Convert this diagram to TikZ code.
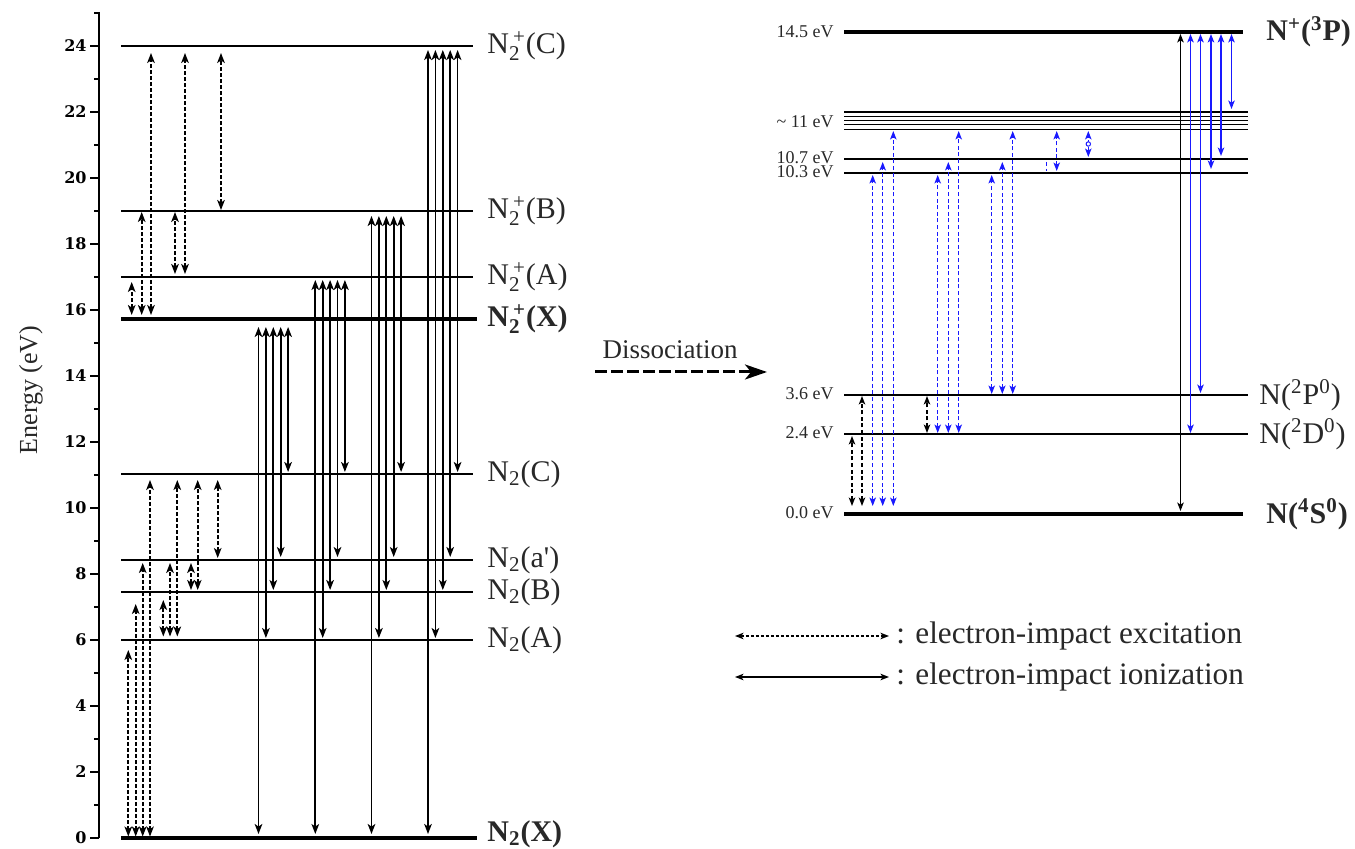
\documentclass[tikz,border=0pt]{standalone}
\usepackage{fontspec}
\setmainfont{Liberation Serif}
\newfontfamily\tickfont{DejaVu Serif}
\newfontfamily\qfont{Liberation Serif}
\usetikzlibrary{arrows.meta}
\definecolor{txt}{RGB}{40,40,40}
\definecolor{eblue}{RGB}{25,25,255}
\newcommand{\smf}[1]{\hbox{\fontsize{10.5}{10.5}\selectfont #1}}
\newcommand{\ssp}[2]{$_{\smf{#1}}^{\kern2pt\smf{#2}}$}
\newcommand{\sbs}[1]{$_{\smf{#1}}$}
\newcommand{\sps}[1]{$^{\smf{#1}}$}
\tikzset{
  lvl/.style={line width=1pt},
  lvlthick/.style={line width=2pt},
  rlvl/.style={line width=0.9pt},
  bigtip/.tip={Stealth[length=5pt,width=3.8pt,inset=1.3pt]},
  smalltip/.tip={Stealth[length=4.2pt,width=3.2pt,inset=1pt]},
  exc/.style={line width=0.85pt, dash pattern=on 2pt off 1pt, arrows={bigtip-bigtip}},
  ion/.style={line width=0.85pt, arrows={bigtip-bigtip}},
  rexc/.style={line width=0.7pt, dash pattern=on 2pt off 1.3pt, arrows={smalltip-smalltip}},
  rion/.style={line width=0.7pt, arrows={smalltip-smalltip}},
  lab/.style={anchor=west, inner sep=0pt, text=txt, font=\fontsize{15}{18}\selectfont},
  leg/.style={anchor=west, inner sep=0pt, text=txt, font=\fontsize{15.6}{18}\selectfont},
  elab/.style={anchor=east, inner sep=0pt, text=txt, font=\fontsize{9}{10}\selectfont},
  ticklab/.style={anchor=east, inner sep=0pt, font=\tickfont\bfseries\fontsize{8}{9}\selectfont},
}
\begin{document}
\begin{tikzpicture}[x=0.5pt,y=-0.5pt]
\useasboundingbox (0,0) rectangle (1355,849);

% ---------- axis ----------
\draw[line width=1pt] (99,12) -- (99,838);
\foreach \e in {0,2,...,24}{
  \draw[line width=0.8pt] (90,{838-33*\e}) -- (99,{838-33*\e});
  \node[ticklab] (tick\e) at (87,{838-33*\e}) {\e};
}
\foreach \e in {1,3,...,25}{
  \draw[line width=0.8pt] (94,{838-33*\e}) -- (99,{838-33*\e});
}
\node[rotate=90, text=txt, font=\fontsize{13}{15}\selectfont] (ylab) at (31,390) {Energy (eV)};

% ---------- left levels ----------
\draw[lvlthick] (121,838) -- (477,838);
\draw[lvl] (121,640) -- (473,640);
\draw[lvl] (121,592) -- (473,592);
\draw[lvl] (121,560) -- (473,560);
\draw[lvl] (121,474) -- (473,474);
\draw[lvlthick] (121,319) -- (477,319);
\draw[lvl] (121,277) -- (473,277);
\draw[lvl] (121,211) -- (473,211);
\draw[lvl] (121,46) -- (473,46);

\node[lab] (nPC) at (487,46) {N\ssp{2}{+}(C)};
\node[lab] (nPB) at (487,211) {N\ssp{2}{+}(B)};
\node[lab] (nPA) at (487,277) {N\ssp{2}{+}(A)};
\node[lab] (nPX) at (487,319) {\bfseries N\ssp{\bfseries 2}{\bfseries +}(X)};
\node[lab] (nC) at (487,474) {N\sbs{2}(C)};
\node[lab] (nap) at (487,560) {N\sbs{2}(a{\qfont\symbol{39}})};
\node[lab] (nB) at (487,592) {N\sbs{2}(B)};
\node[lab] (nA) at (487,640) {N\sbs{2}(A)};
\node[lab] (nX) at (487,834) {\bfseries N\sbs{\bfseries 2}(X)};

% ---------- left excitation arrows ----------
\foreach \x/\a/\b in {128.3/836.5/650, 135.7/836.5/604, 142.7/836.5/563, 150/836.5/480,
  163.3/636.5/600, 170/636.5/563, 177.3/636.5/480, 191/590/563, 197.7/590/480, 217.7/558/480,
  131.7/315/282, 141.7/315/212, 151/315/53, 175/274/212, 185/274/53, 221/210/53}
  \draw[exc] (\x,\a) -- (\x,\b);

% ---------- left ionization arrows ----------
\foreach \gx/\tp in {258.5/327, 315.3/280, 371.5/216, 428/50}{
  \foreach \i/\bt in {0/834, 1/638, 2/590, 3/557, 4/472}{
    \draw[ion] ({\gx+7.4*\i},\tp) -- ({\gx+7.4*\i},\bt);
  }
}

% ---------- dissociation ----------
\node[text=txt, font=\fontsize{13.5}{15}\selectfont] (diss) at (670,350) {Dissociation};
\coordinate (dA) at (595,372);
\coordinate (dB) at (767,372);
\draw[line width=1.5pt, dash pattern=on 6pt off 2pt, -{Stealth[length=11pt,width=7.5pt,inset=3pt]}] (dA) -- (dB);

% ---------- right levels ----------
\draw[lvlthick] (844,32) -- (1243,32);
\foreach \y in {112,116.5,120.5,124.5,129.5} \draw[rlvl] (844,\y) -- (1248,\y);
\draw[rlvl] (844,159) -- (1248,159);
\draw[rlvl] (844,173) -- (1248,173);
\draw[rlvl] (844,395) -- (1248,395);
\draw[rlvl] (844,434) -- (1248,434);
\draw[lvlthick] (844,514) -- (1243,514);

\node[elab] (e145) at (834,32) {14.5 eV};
\node[elab] (e11) at (834,122) {\textasciitilde\ 11 eV};
\node[elab] (e107) at (834,158) {10.7 eV};
\node[elab] (e103) at (834,172) {10.3 eV};
\node[elab] (e36) at (834,394) {3.6 eV};
\node[elab] (e24) at (834,433) {2.4 eV};
\node[elab] (e00) at (834,513) {0.0 eV};

\node[lab] (nNp) at (1266,32) {\bfseries N\sps{\bfseries +}(\sps{\bfseries 3}P)};
\node[lab] (nP0) at (1259,395) {N(\sps{2}P\sps{0})};
\node[lab] (nD0) at (1259,434) {N(\sps{2}D\sps{0})};
\node[lab] (nS0) at (1266,514) {\bfseries N(\sps{\bfseries 4}S\sps{\bfseries 0})};

% ---------- right arrows ----------
\foreach \x/\a/\b in {852/506/436, 862/506/396, 927/433/396}
  \draw[rexc] (\x,\a) -- (\x,\b);
\foreach \x/\a/\b in {872.7/506/175, 882.7/506/162, 893.3/506/131,
  937.7/433/175, 948.3/433/162, 958.7/433/131,
  991.7/394/175, 1002.3/394/162, 1012.7/394/131,
  1056.7/171/131, 1088.3/157/131}
  \draw[rexc, eblue] (\x,\a) -- (\x,\b);
\draw[eblue, line width=0.7pt, dash pattern=on 2pt off 1.3pt] (1046.7,162) -- (1046.7,171);
\draw[eblue, line width=0.5pt, fill=white] (1088.3,144) circle (2.2);

\draw[rion] (1180.5,34) -- (1180.5,511);
\foreach \x/\b in {1190.5/433, 1200.5/393, 1211/169, 1221/156, 1231.5/109}
  \draw[rion, eblue] (\x,34) -- (\x,\b);

% ---------- legend ----------
\coordinate (l1a) at (735,636);
\coordinate (l1b) at (889,636);
\coordinate (l2a) at (735,677);
\coordinate (l2b) at (889,677);
\draw[line width=0.7pt, dash pattern=on 1.5pt off 1pt, arrows={smalltip-smalltip}] (l1a) -- (l1b);
\draw[line width=0.7pt, arrows={smalltip-smalltip}] (l2a) -- (l2b);
\node[leg] (lg1) at (896,636) {: electron-impact excitation};
\node[leg] (lg2) at (896,677) {: electron-impact ionization};
\end{tikzpicture}
\end{document}
